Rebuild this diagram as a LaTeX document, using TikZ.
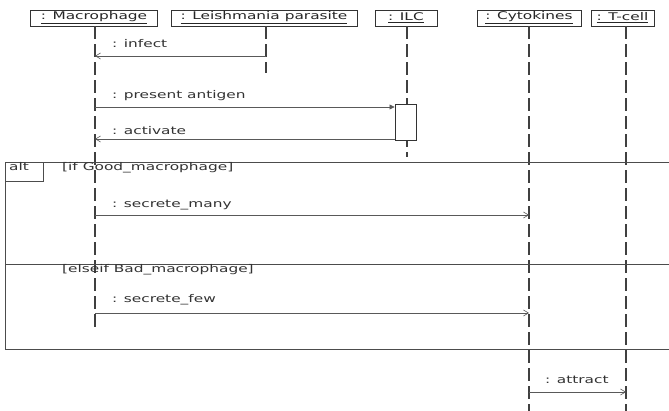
\documentclass[tikz,border=0pt]{standalone}
\usepackage{fontspec}
\newfontfamily\dv[FakeStretch=1.45]{DejaVu Sans}
\usetikzlibrary{arrows.meta}
\begin{document}
\begin{tikzpicture}[x=1pt,y=-1pt,
  obj/.style={draw=black!80,line width=0.8pt,minimum height=16pt,inner sep=0pt,font=\dv\fontsize{10.6}{11}\selectfont,text=black!85},
  life/.style={draw=black!75,line width=1.4pt,dash pattern=on 13pt off 5pt},
  msg/.style={draw=black!65,line width=0.7pt,-{Straight Barb[length=5pt,width=6pt,line width=0.6pt]}},
  msgf/.style={draw=black!65,line width=0.7pt,-{Triangle[length=5pt,width=5pt]}},
  lbl/.style={anchor=base west,inner sep=0pt,font=\dv\fontsize{10.6}{11}\selectfont,text=black!80},
  frame/.style={draw=black!70,line width=0.8pt}]
\useasboundingbox (0,0) rectangle (669,411);
\fill[white] (0,0) rectangle (669,411);
% objects
\node[obj,minimum width=127pt] (mac) at (94,18) {\underline{: Macrophage}};
\node[obj,minimum width=186pt] (lei) at (264,18) {\underline{: Leishmania parasite}};
\node[obj,minimum width=62pt] (ilc) at (406,18) {\underline{: ILC}};
\node[obj,minimum width=104pt] (cyt) at (529,18) {\underline{: Cytokines}};
\node[obj,minimum width=63pt] (tc) at (622.5,18) {\underline{: T-cell}};
% lifeline ends
\coordinate (macE) at (95,330);
\coordinate (leiE) at (266,73);
\coordinate (ilcE) at (407,157);
\coordinate (cytE) at (529,411);
\coordinate (tcE) at (626,411);
\draw[life] (mac.south -| macE) -- (macE);
\draw[life] (lei.south -| leiE) -- (leiE);
\draw[life] (ilc.south -| ilcE) -- (ilcE);
\draw[life] (cyt.south -| cytE) -- (cytE);
\draw[life] (tc.south -| tcE) -- (tcE);
% activation box
\node[draw=black!80,fill=white,line width=0.9pt,minimum width=21pt,minimum height=36pt,inner sep=0pt] (act) at (405.5,122) {};
% alt frame
\draw[frame] (669,162) -- (5,162) -- (5,349) -- (669,349);
\draw[frame] (5,264) -- (669,264);
\node[frame,draw,anchor=north west,minimum width=38pt,minimum height=19pt,inner sep=0pt] (altb) at (5,162) {};
\node[lbl] (altt) at (9,171) {alt};
\node[lbl] (g1) at (62,171) {[if Good\_macrophage]};
\node[lbl] (g2) at (62,273) {[elseif Bad\_macrophage]};
% message points
\coordinate (m1) at (95,56); \coordinate (l1) at (266,56);
\coordinate (m2) at (95,107);
\coordinate (m3) at (95,139);
\coordinate (m4) at (95,215); \coordinate (c4) at (529,215);
\coordinate (m5) at (95,313); \coordinate (c5) at (529,313);
\coordinate (c6) at (529,392); \coordinate (t6) at (626,392);
\draw[msg] (l1) -- (m1);
\draw[msgf] (m2) -- (m2 -| act.west);
\draw[msg] (m3 -| act.west) -- (m3);
\draw[msg] (m4) -- (c4);
\draw[msg] (m5) -- (c5);
\draw[msg] (c6) -- (t6);
\node[lbl] (t1) at (112,48) {: infect};
\node[lbl] (t2) at (112,99) {: present antigen};
\node[lbl] (t3) at (112,135) {: activate};
\node[lbl] (t4) at (112,208) {: secrete\_many};
\node[lbl] (t5) at (112,303) {: secrete\_few};
\node[lbl] (t6l) at (545,383) {: attract};
\end{tikzpicture}
\end{document}
